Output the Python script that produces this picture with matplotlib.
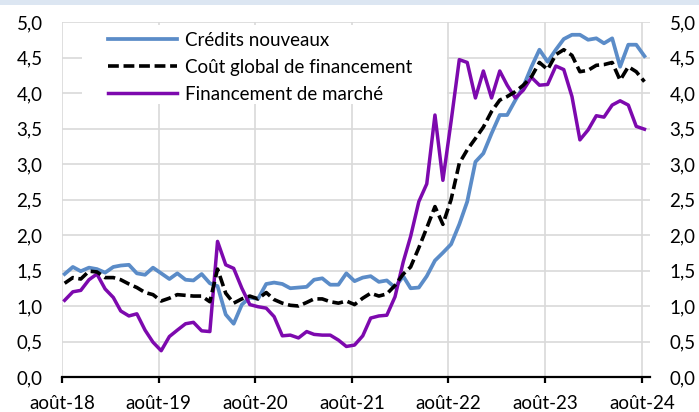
import numpy as np
import pandas as pd
import matplotlib
matplotlib.use("Agg")
import matplotlib.pyplot as plt
from matplotlib.patches import Rectangle

plt.rcParams['font.family'] = ['Lato', 'DejaVu Sans']

# monthly data, Aug 2018 -> Aug 2024 (%)
credits_nouveaux = [
    1.45, 1.55, 1.49, 1.54, 1.52, 1.47, 1.55, 1.57, 1.58, 1.46, 1.44, 1.54,
    1.46, 1.38, 1.46, 1.37, 1.36, 1.45, 1.32, 1.28, 0.88, 0.75, 1.02, 1.12,
    1.10, 1.31, 1.33, 1.31, 1.25, 1.26, 1.27, 1.37, 1.39, 1.30, 1.30, 1.46,
    1.35, 1.40, 1.42, 1.34, 1.36, 1.26, 1.42, 1.25, 1.26, 1.42, 1.64, 1.75,
    1.87, 2.15, 2.47, 3.03, 3.15, 3.43, 3.69, 3.69, 3.90, 4.09, 4.37, 4.61,
    4.44, 4.61, 4.76, 4.82, 4.82, 4.75, 4.77, 4.70, 4.77, 4.37, 4.68, 4.68,
    4.52,
]
cout_global = [
    1.32, 1.40, 1.38, 1.49, 1.48, 1.40, 1.40, 1.37, 1.31, 1.26, 1.19, 1.16,
    1.07, 1.11, 1.16, 1.15, 1.14, 1.14, 1.06, 1.52, 1.18, 1.04, 1.10, 1.14,
    1.10, 1.19, 1.09, 1.04, 1.01, 1.00, 1.05, 1.10, 1.10, 1.06, 1.04, 1.07,
    1.02, 1.11, 1.18, 1.14, 1.17, 1.29, 1.45, 1.55, 1.82, 2.10, 2.40, 2.15,
    2.50, 3.01, 3.20, 3.36, 3.52, 3.74, 3.90, 3.95, 4.02, 4.11, 4.23, 4.43,
    4.33, 4.54, 4.61, 4.53, 4.30, 4.32, 4.39, 4.40, 4.43, 4.18, 4.37, 4.30,
    4.16,
]
financement_marche = [
    1.08, 1.20, 1.22, 1.37, 1.45, 1.24, 1.12, 0.93, 0.86, 0.89, 0.66, 0.49,
    0.37, 0.57, 0.66, 0.75, 0.77, 0.65, 0.64, 1.91, 1.58, 1.53, 1.25, 1.02,
    0.99, 0.97, 0.85, 0.58, 0.59, 0.55, 0.64, 0.60, 0.59, 0.59, 0.52, 0.43,
    0.45, 0.58, 0.83, 0.86, 0.87, 1.13, 1.62, 1.98, 2.47, 2.72, 3.69, 2.77,
    3.60, 4.47, 4.43, 3.93, 4.31, 3.93, 4.31, 4.11, 3.93, 4.04, 4.22, 4.11,
    4.12, 4.38, 4.33, 3.95, 3.34, 3.48, 3.68, 3.66, 3.83, 3.89, 3.83, 3.53,
    3.49,
]
labels = ["Crédits nouveaux", "Coût global de financement", "Financement de marché"]
tick_labels = ["août-18", "août-19", "août-20", "août-21", "août-22", "août-23", "août-24"]

dates = pd.date_range("2018-08-01", periods=len(credits_nouveaux), freq="MS") + pd.Timedelta(days=10)
tick_dates = pd.date_range("2018-08-01", periods=len(tick_labels), freq="12MS")

fig = plt.figure(figsize=(6.99, 4.12), dpi=100)
fig.patches.append(Rectangle((0, 0.988), 1, 0.012, transform=fig.transFigure,
                             facecolor="#DCE6F2", edgecolor="none"))
ax = fig.add_axes([62 / 699, 1 - 377 / 412, 588 / 699, 355 / 412])

ax.plot(dates, credits_nouveaux, color="#5B8CC8", lw=2.7, label=labels[0], zorder=3)
ax.plot(dates, cout_global, color="black", lw=2.6, ls=(0, (3.0, 1.3)), label=labels[1], zorder=4)
ax.plot(dates, financement_marche, color="#7D09AE", lw=2.5, label=labels[2], zorder=3)

ax.set_ylim(0, 5)
ax.set_yticks(np.arange(0, 5.01, 0.5))
ax.set_yticklabels([f"{v:.1f}".replace(".", ",") for v in np.arange(0, 5.01, 0.5)])
ax.set_xlim(pd.Timestamp("2018-08-01"), pd.Timestamp("2024-09-01"))
ax.set_xticks(tick_dates)
ax.set_xticklabels(tick_labels)

ax.set_axisbelow(True)
ax.grid(True, color="#D9D9D9", lw=1.2)
for s in ["top", "left", "right"]:
    ax.spines[s].set_visible(False)
ax.spines["bottom"].set_linewidth(1.6)
ax.spines["bottom"].set_zorder(5)
ax.tick_params(axis="y", length=0, pad=14, labelsize=13.5, labelright=True, colors="#000000")
ax.tick_params(axis="x", length=4, width=1.6, direction="out", pad=9, labelsize=13.5)

# white box behind the legend
ax.add_patch(Rectangle((20 / 588, (377 - 104) / 355), 365 / 588, 79 / 355,
                       transform=ax.transAxes, facecolor="white", edgecolor="none", zorder=1.5))
leg = ax.legend(loc="upper left", bbox_to_anchor=(46 / 588, (377 - 32) / 355), frameon=False,
                fontsize=13.5, handlelength=3.7, handletextpad=0.4, labelspacing=0.52,
                borderpad=0, borderaxespad=0)

fig.savefig("out.png", dpi=100)
